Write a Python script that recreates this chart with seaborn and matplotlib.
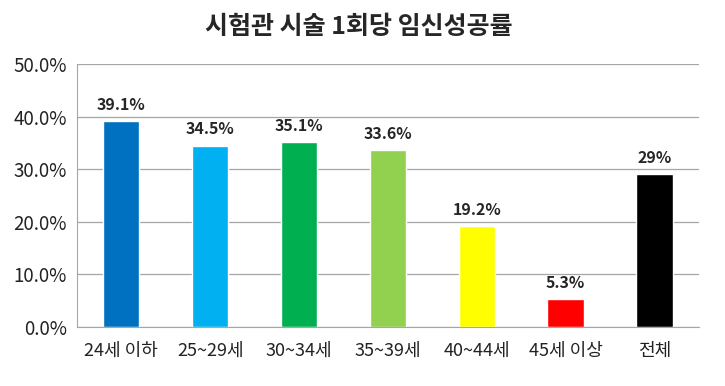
import pandas as pd
import matplotlib.pyplot as plt
import seaborn as sns
from matplotlib.ticker import PercentFormatter

# data
groups = ['24세 이하', '25~29세', '30~34세', '35~39세', '40~44세', '45세 이상', '전체']
rates = [39.1, 34.5, 35.1, 33.6, 19.2, 5.3, 29.0]
labels = ['39.1%', '34.5%', '35.1%', '33.6%', '19.2%', '5.3%', '29%']
colors = ['#0070C0', '#00B0F0', '#00B050', '#92D050', '#FFFF00', '#FF0000', '#000000']

df = pd.DataFrame({'group': groups, 'rate': rates})

sns.set_style('white')
plt.rcParams['font.family'] = ['Noto Sans CJK KR', 'DejaVu Sans']

fig = plt.figure(figsize=(7.25, 3.86), dpi=100)
ax = fig.add_axes([0.106, 0.153, 0.858, 0.681])

sns.barplot(data=df, x='group', y='rate', hue='group', palette=colors,
            width=0.41, legend=False, ax=ax, saturation=1)

for i, (v, t) in enumerate(zip(rates, labels)):
    ax.text(i, v + 1.6, t, ha='center', va='bottom', fontsize=11.5, fontweight='bold')

ax.set_ylim(0, 50)
ax.set_xlim(-0.5, 6.5)
ax.set_yticks(range(0, 51, 10))
ax.yaxis.set_major_formatter(PercentFormatter(decimals=1))
ax.grid(axis='y', color='#A6A6A6', linewidth=0.9)
ax.set_axisbelow(True)
for s in ['top', 'right']:
    ax.spines[s].set_visible(False)
for s in ['left', 'bottom']:
    ax.spines[s].set_color('#A6A6A6')
ax.tick_params(axis='both', length=0, colors='#222222')
ax.tick_params(axis='x', pad=11, labelsize=13)
ax.tick_params(axis='y', pad=7, labelsize=13.5)
ax.set_xlabel('')
ax.set_ylabel('')

fig.suptitle('시험관 시술 1회당 임신성공률', x=0.495, y=0.96, fontsize=18, fontweight='bold')

fig.savefig('out.png', dpi=100)
